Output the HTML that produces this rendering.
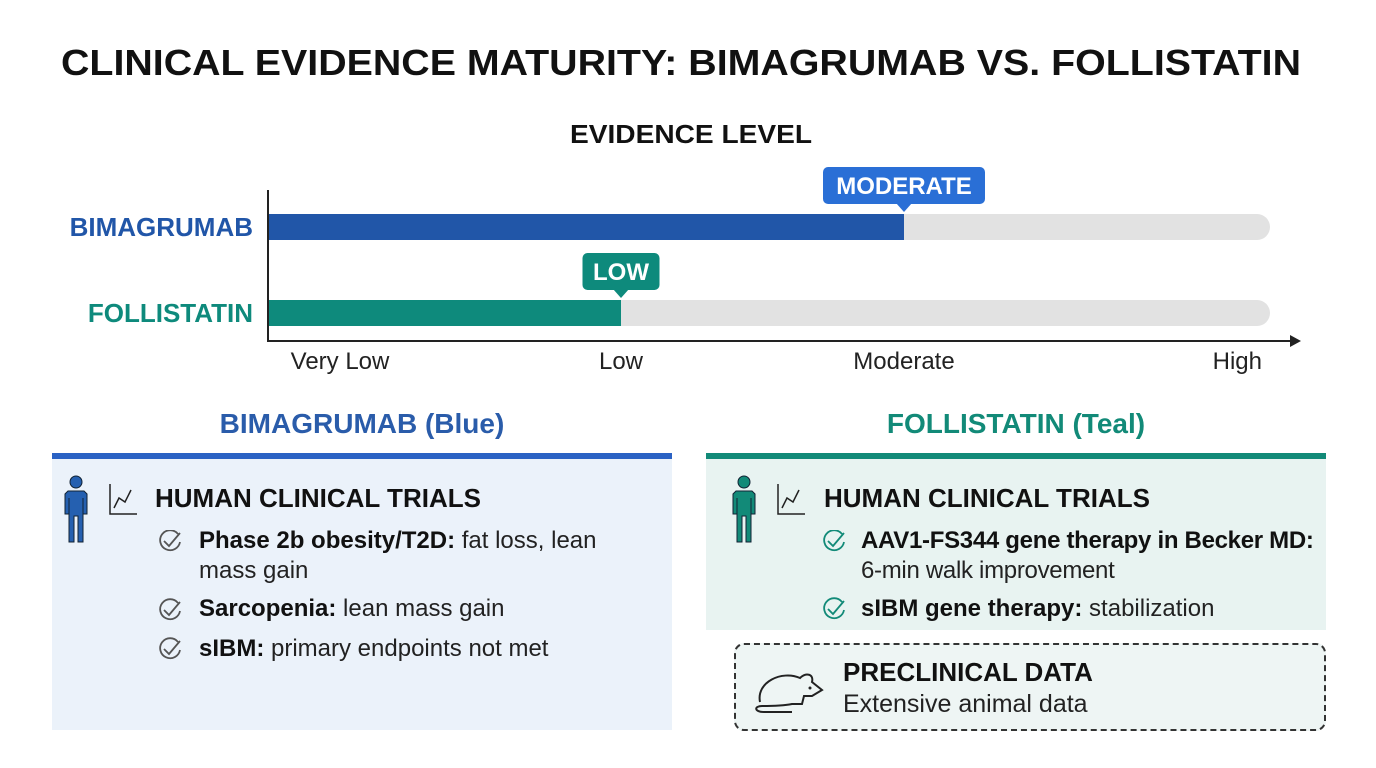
<!DOCTYPE html>
<html><head><meta charset="utf-8"><style>
body{margin:0;width:1376px;height:768px;background:#fff;font-family:"Liberation Sans",sans-serif;position:relative;overflow:hidden}
.abs{position:absolute}
.item{position:absolute;font-size:24px;color:#222;line-height:30px}
.item b{color:#111}
</style></head><body>
<svg class="abs" style="left:0;top:0" width="1376" height="400">
<text x="681" y="75" text-anchor="middle" font-size="36" font-weight="bold" fill="#111" textLength="1240" lengthAdjust="spacingAndGlyphs">CLINICAL EVIDENCE MATURITY: BIMAGRUMAB VS. FOLLISTATIN</text>
<text x="691" y="143" text-anchor="middle" font-size="26" font-weight="bold" fill="#111" textLength="242" lengthAdjust="spacingAndGlyphs">EVIDENCE LEVEL</text>
<g id="plot"></g>
</svg>
<script>
const categories=["BIMAGRUMAB","FOLLISTATIN"];
const values=[2,1];
const valueLabels=["MODERATE","LOW"];
const tickLabels=["Very Low","Low","Moderate","High"];
const colors=["#2156a8","#0e8a7c"];
const calloutColors=["#2a6fd6","#0e8a7c"];
const NS="http://www.w3.org/2000/svg";
const g=document.getElementById("plot");
function xs(v){return 338+v*283;}
const rowY=[214,300];
function mk(t,a){const e=document.createElementNS(NS,t);for(const k in a)e.setAttribute(k,a[k]);g.appendChild(e);return e;}
categories.forEach((c,i)=>{
 const y=rowY[i];
 const tr=mk("rect",{x:268,y:y,width:1002,height:26,rx:13,fill:"#e2e2e2"});
 
 
 const b=mk("rect",{x:268,y:y,width:xs(values[i])-268,height:26,fill:colors[i]});
 
 
 const l=mk("text",{x:253,y:y+22,"text-anchor":"end","font-size":26,"font-weight":"bold",fill:colors[i]});
 l.textContent=c;
 
 
 const xe=xs(values[i]);
 const w=valueLabels[i].length*17+26;
 const bx=mk("rect",{x:xe-w/2,y:y-47,width:w,height:37,rx:5,fill:calloutColors[i]});
 
 
 const pt=mk("path",{d:`M${xe-8} ${y-11} L${xe} ${y-2} L${xe+8} ${y-11} z`,fill:calloutColors[i]});
 
 
 const vt=mk("text",{x:xe,y:y-20,"text-anchor":"middle","font-size":24,"font-weight":"bold",fill:"#fff"});
 vt.textContent=valueLabels[i];
 
 
});
const ax=mk("path",{d:"M268 190 V341 H1297",stroke:"#222","stroke-width":2,fill:"none"});


const ar=mk("path",{d:"M1290 335 L1301 341 L1290 347 z",fill:"#222"});


tickLabels.forEach((t,i)=>{
 const last=i===tickLabels.length-1;
 const e=mk("text",{x:last?1262:xs(i)+(i===0?2:0),y:369,"text-anchor":last?"end":"middle","font-size":24,fill:"#222"});
 e.textContent=t;
 
 
});
</script>

<div class="abs" style="left:52px;width:620px;top:408px;text-align:center;font-size:28px;font-weight:bold;color:#2a5caa">BIMAGRUMAB (Blue)</div>
<div class="abs" style="left:52px;top:453px;width:620px;height:277px;background:#ebf2fa;border-top:6px solid #2a62c4;box-sizing:border-box"></div>
<div class="abs" style="left:706px;width:620px;top:408px;text-align:center;font-size:28px;font-weight:bold;color:#128a78">FOLLISTATIN (Teal)</div>
<div class="abs" style="left:706px;top:453px;width:620px;height:177px;background:#e8f3f1;border-top:6px solid #128a78;box-sizing:border-box"></div>
<div class="abs" style="left:734px;top:643px;width:592px;height:88px;border:2px dashed #333;border-radius:10px;box-sizing:border-box;background:#eef5f4"></div>

<svg class="abs" style="left:62px;top:474px" width="80" height="70">
<circle cx="14" cy="8" r="6" fill="#2560b0" stroke="#123" stroke-width="1"/>
<path d="M6 17 h16 l3 3 v20 h-4 v-16 v44 h-5 v-26 h-4 v26 h-5 v-44 v16 h-4 v-20 z" fill="#2560b0" stroke="#123" stroke-width="1"/>
<path d="M48 10 V40 H75" stroke="#222" stroke-width="1.5" fill="none"/>
<path d="M52 34 L57 24 L63 28 L69 16" stroke="#222" stroke-width="1.5" fill="none"/>
</svg>
<svg class="abs" style="left:730px;top:474px" width="80" height="70">
<circle cx="14" cy="8" r="6" fill="#128a78" stroke="#123" stroke-width="1"/>
<path d="M6 17 h16 l3 3 v20 h-4 v-16 v44 h-5 v-26 h-4 v26 h-5 v-44 v16 h-4 v-20 z" fill="#128a78" stroke="#123" stroke-width="1"/>
<path d="M48 10 V40 H75" stroke="#222" stroke-width="1.5" fill="none"/>
<path d="M52 34 L57 24 L63 28 L69 16" stroke="#222" stroke-width="1.5" fill="none"/>
</svg>

<div class="abs" style="left:155px;top:483px;font-size:26px;font-weight:bold;color:#111">HUMAN CLINICAL TRIALS</div>
<div class="item" style="left:199px;top:526px;width:430px"><b>Phase 2b obesity/T2D:</b> fat loss, lean mass gain</div>
<div class="item" style="left:199px;top:594px"><b>Sarcopenia:</b> lean mass gain</div>
<div class="item" style="left:199px;top:634px"><b>sIBM:</b> primary endpoints not met</div>

<div class="abs" style="left:824px;top:483px;font-size:26px;font-weight:bold;color:#111">HUMAN CLINICAL TRIALS</div>
<div class="item" style="left:861px;top:526px;width:470px;letter-spacing:-0.3px"><b>AAV1-FS344 gene therapy in Becker MD:</b> 6-min walk improvement</div>
<div class="item" style="left:861px;top:594px"><b>sIBM gene therapy:</b> stabilization</div>

<div class="abs" style="left:843px;top:657px;font-size:26px;font-weight:bold;color:#111">PRECLINICAL DATA</div>
<div class="abs" style="left:843px;top:690px;font-size:25px;color:#222">Extensive animal data</div>
<svg class="abs" style="left:752px;top:662px" width="76" height="52">
<path d="M8 40 C4 20 30 8 48 16 C54 10 62 12 60 20 L70 28 L60 34 L52 34 L50 42 L40 42 C30 44 16 44 10 44 C2 44 2 50 12 50 L40 50" stroke="#222" stroke-width="2" fill="none"/>
<circle cx="58" cy="26" r="1.5" fill="#222"/>
</svg>

<svg class="abs" style="left:158px;top:530px" width="26" height="130">
<g fill="none" stroke="#555" stroke-width="1.8">
<path d="M20 4 A10 10 0 1 0 22 12"/><path d="M6 11 l5 5 l11 -13"/>
<g transform="translate(0,69)"><path d="M20 4 A10 10 0 1 0 22 12"/><path d="M6 11 l5 5 l11 -13"/></g>
<g transform="translate(0,108)"><path d="M20 4 A10 10 0 1 0 22 12"/><path d="M6 11 l5 5 l11 -13"/></g>
</g></svg>
<svg class="abs" style="left:822px;top:530px" width="26" height="90">
<g fill="none" stroke="#128a78" stroke-width="1.8">
<path d="M20 4 A10 10 0 1 0 22 12"/><path d="M6 11 l5 5 l11 -13"/>
<g transform="translate(0,68)"><path d="M20 4 A10 10 0 1 0 22 12"/><path d="M6 11 l5 5 l11 -13"/></g>
</g></svg>
</body></html>
